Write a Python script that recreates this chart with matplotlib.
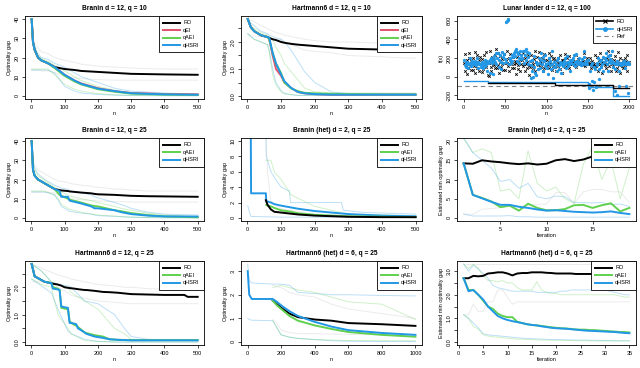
import numpy as np
import matplotlib
matplotlib.use("Agg")
import matplotlib.pyplot as plt
from matplotlib.lines import Line2D

plt.rcParams['font.family'] = ['Liberation Sans', 'DejaVu Sans']

BLACK = 'black'
RED = '#DF536B'
GREEN = '#61D04F'
BLUE = '#2297E6'
GRAY = '#BEBEBE'

# ---------------- Branin d = 12, q = 10
a_n = [1, 5, 10, 20, 30, 50, 70, 100, 130, 150, 200, 250, 300, 400, 500]
a_ro = [40, 28, 24, 20, 18.5, 17, 15, 14, 13.5, 13, 12.5, 12, 11.5, 11.2, 11]
a_qei = [40, 28, 24, 20, 18.5, 17, 15, 11, 8, 6.5, 4, 2.5, 1.5, 1, 0.8]
a_qaei = [40, 28, 24, 20, 18.5, 17, 14.5, 10.5, 7.5, 6, 3.5, 2.2, 1.2, 0.7, 0.5]
a_qhsri = [40, 28, 24, 20, 18.5, 17, 15, 11, 8, 6.3, 3.8, 2.5, 1.4, 0.8, 0.6]
a_ro_hi = [40, 32, 27, 25, 23, 22, 20, 18.5, 17.5, 16.5, 15.5, 15, 14.5, 14, 14]
a_ro_lo = [13.5, 13.5, 13.5, 13.5, 13, 13, 12, 10, 9.5, 9, 8.5, 8.2, 8.2, 8.2, 8.2]
a_hsri_hi = [40, 30, 26, 22, 20, 19, 17, 15, 12, 10, 7, 4, 2.5, 1.5, 1.0]
a_hsri_lo = [13.5, 13.5, 13.5, 13.5, 13.5, 13.5, 12, 5, 2.5, 1.5, 0.8, 0.4, 0.2, 0.1, 0.1]
a_aei_hi = [40, 29, 25, 21, 19.5, 18, 16, 13, 10, 8, 5, 3, 1.8, 1.2, 1.0]
a_aei_lo = [14, 14, 14, 14, 14, 14, 11, 6, 3.5, 2.5, 1.2, 0.6, 0.3, 0.2, 0.1]

# ---------------- Hartmann6 d = 12, q = 10
b_n = [1, 10, 20, 40, 60, 65, 75, 85, 100, 110, 130, 150, 170, 200, 250, 300, 400, 480, 500]
b_ro = [2.85, 2.55, 2.4, 2.25, 2.18, 2.15, 2.1, 2.07, 2.0, 1.97, 1.93, 1.9, 1.88, 1.85, 1.8, 1.75, 1.72, 1.7, 1.65]
b_qei = [2.85, 2.55, 2.4, 2.25, 2.18, 2.1, 1.5, 1.0, 0.75, 0.5, 0.3, 0.15, 0.1, 0.07, 0.05, 0.05, 0.05, 0.05, 0.05]
b_qaei = [2.85, 2.55, 2.4, 2.25, 2.18, 2.1, 1.6, 1.2, 0.85, 0.5, 0.28, 0.18, 0.12, 0.1, 0.08, 0.07, 0.06, 0.06, 0.06]
b_qhsri = [2.85, 2.55, 2.4, 2.25, 2.18, 2.15, 1.6, 1.2, 0.8, 0.55, 0.3, 0.15, 0.1, 0.07, 0.05, 0.05, 0.05, 0.05, 0.05]
b_ro_hi = [2.85, 2.8, 2.75, 2.6, 2.5, 2.45, 2.4, 2.35, 2.3, 2.25, 2.2, 2.15, 2.1, 2.05, 2.0, 2.0, 1.95, 1.9, 1.9]
b_ro_lo = [2.3, 2.25, 2.2, 2.2, 2.15, 2.15, 2.1, 2.1, 2.1, 2.0, 1.9, 1.8, 1.7, 1.65, 1.6, 1.5, 1.45, 1.4, 1.4]
b_hsri_hi = [2.85, 2.7, 2.6, 2.4, 2.3, 2.25, 2.2, 2.15, 2.1, 2.0, 1.7, 1.3, 0.9, 0.5, 0.15, 0.1, 0.1, 0.1, 0.1]
b_hsri_lo = [2.3, 2.2, 2.1, 2.0, 1.9, 1.7, 1.0, 0.5, 0.2, 0.1, 0.05, 0.02, 0.02, 0.02, 0.02, 0.02, 0.02, 0.02, 0.02]
b_aei_hi = [2.85, 2.6, 2.5, 2.35, 2.25, 2.2, 2.1, 1.8, 1.5, 1.2, 0.9, 0.6, 0.3, 0.15, 0.12, 0.1, 0.1, 0.1, 0.1]
b_aei_lo = [2.3, 2.2, 2.1, 2.0, 1.9, 1.6, 0.8, 0.4, 0.15, 0.08, 0.05, 0.03, 0.03, 0.03, 0.03, 0.03, 0.03, 0.03, 0.03]

# ---------------- Lunar lander d = 12, q = 100 (12 evaluations shown per batch of 100)
ro_slots = [3, 11, 19, 27, 35, 43, 51, 59, 67, 75, 83, 91]
hsri_slots = [7, 15, 23, 31, 39, 47, 55, 63, 71, 79, 87, 95]
lunar_ro = [
    [150, 60, 240, 120, 30, 180, 90, 250, 200, 110, 170, 70],
    [140, 70, 200, 110, 260, 40, 160, 95, 230, 130, 180, 60],
    [210, 130, 50, 190, 80, 230, 120, 170, 100, 260, 150, 20],
    [10, 150, 270, 100, 60, 210, 140, 180, 120, 230, 90, 300],
    [90, 250, 120, 40, 160, 220, 100, 130, 190, 70, 240, 150],
    [70, 190, 280, 150, 110, 60, 200, 240, 130, 170, 90, 210],
    [130, 90, 170, 30, 150, 210, 120, 80, 250, 180, 60, 140],
    [180, 110, 250, 140, 60, 200, 130, 160, 90, 230, 120, 20],
    [100, 230, 120, 170, 140, 90, 190, 280, 60, 160, 210, 130],
    [120, 260, 130, 170, 100, 150, 200, 60, 240, 90, 180, 140],
    [140, 180, 120, 250, 90, 160, 130, 220, 70, 190, 110, 200],
    [100, 170, 60, 140, 200, 110, 150, 80, 230, 130, 180, 40],
    [180, 130, 240, 100, 160, 120, 200, 150, 90, 220, 140, 170],
    [150, 130, 160, 140, 120, 170, 100, 230, 140, 150, 190, 130],
    [140, 160, 130, 150, 170, 120, 250, 110, 150, 140, 160, 200],
    [150, 140, 200, 130, 160, 90, 170, 120, 150, 140, 230, 110],
    [110, 210, 140, 60, 180, 130, 250, 100, 160, 40, 200, 150],
    [160, 120, 90, 200, 140, 280, 110, 170, 230, 60, 190, 130],
    [100, 180, 130, 220, 60, 150, 90, 260, 170, 120, 200, 40],
    [150, 110, 180, 90, 140, 200, 120, 170, 60, 230, 130, 160],
]
lunar_hsri = [
    [180, 120, 150, 100, 160, 90, 140, 130, 200, 150, 110, 170],
    [150, 160, 140, 130, 170, 120, 150, 200, 90, 160, 140, 130],
    [130, 100, 160, 120, 90, 150, 180, 110, 140, 60, 170, 150],
    [160, 40, 180, 200, 150, 170, 30, 220, 190, 160, 250, 140],
    [200, 250, 180, 100, 230, 80, 160, 260, 210, 150, 240, 190],
    [160, 590, 600, 615, 605, 140, 200, 180, 150, 230, 170, 210],
    [250, 280, 220, 300, 260, 170, 240, 200, 150, 270, 230, 190],
    [200, 270, 150, 280, 230, 300, 180, 260, 210, 140, 250, 170],
    [120, -20, 60, 180, 0, 220, 100, 40, 160, 20, 130, 80],
    [150, 200, 90, 180, 250, 130, 60, 210, 170, 110, 230, 140],
    [90, 150, 30, 200, 120, 170, 80, 280, 140, -20, 160, 100],
    [100, 140, 60, 180, 200, 120, 80, 160, 130, 40, 150, 110],
    [170, 130, 200, 90, 150, 220, 110, 160, 140, 180, 60, 150],
    [180, 200, 130, 230, 160, 110, 240, 150, 170, 140, 200, 160],
    [160, 120, 190, 130, 150, 210, 280, 140, 170, 150, 130, 180],
    [-80, -120, 60, -100, 120, -50, 150, -140, 100, -60, 80, -110],
    [150, 120, 200, 80, -30, 170, 100, 180, 140, 60, 210, 160],
    [200, 250, 180, 140, 220, 60, 160, 230, 190, 150, 270, 170],
    [100, 150, -150, 80, 130, -200, 170, 140, -100, 60, 150, 120],
    [150, 140, 160, 130, 170, 90, 150, -100, 140, -180, 160, 130],
]
lunar_ro_best_n = [300, 1100, 1800, 2000]
lunar_ro_best = [-70, -90, -125, -125]
lunar_hsri_best_n = [0, 300, 1500, 1800, 2000]
lunar_hsri_best = [-45, -60, -115, -205, -205]
lunar_ref = -100

# ---------------- Branin d = 12, q = 25
d_n = [1, 5, 10, 20, 40, 70, 85, 90, 110, 115, 150, 180, 190, 200, 250, 270, 300, 350, 400, 500]
d_ro = [40, 25, 22, 20, 18, 15, 14.5, 14.3, 14, 13.8, 13.2, 12.8, 12.5, 12.3, 12, 11.8, 11.5, 11.3, 11.2, 11]
d_qaei = [40, 25, 22, 20, 18, 15, 12, 11.5, 10, 9.5, 8, 6.5, 6.2, 6, 4, 3.5, 2.5, 1.5, 0.8, 0.3]
d_qhsri = [40, 25, 22, 20, 18, 15, 14, 11, 11, 9, 7.5, 6, 5, 5, 4, 3, 2, 1.2, 0.8, 0.7]
d_ro_hi = [40, 30, 27, 25, 23, 20, 19, 19, 18.5, 18, 17, 16.5, 16, 16, 15, 15, 14.5, 14, 14, 14]
d_ro_lo = [13.5, 13.5, 13.5, 13.5, 13.5, 13, 12, 11, 10.5, 10, 9.5, 9, 9, 8.8, 8.5, 8.5, 8.3, 8.2, 8.2, 8.2]
d_hsri_hi = [40, 30, 26, 23, 20, 17, 16, 15.5, 15, 14, 13, 12, 11, 10.5, 8, 7, 5, 3, 2, 1.5]
d_hsri_lo = [13.5, 13.5, 13.5, 13.5, 13.5, 12, 8, 6, 4, 3.5, 2.5, 2, 1.5, 1.2, 0.8, 0.6, 0.4, 0.2, 0.1, 0.1]
d_aei_hi = [40, 28, 25, 22, 19.5, 16, 14, 13.5, 12, 11.5, 10, 9, 8.5, 8, 6, 5, 4, 2.5, 1.5, 0.8]
d_aei_lo = [14, 14, 14, 14, 14, 12, 9, 7, 5, 4.5, 3, 2, 1.8, 1.5, 1, 0.7, 0.4, 0.2, 0.1, 0.1]

# ---------------- Branin (het) d = 2, q = 25
e_n = [1, 10, 11, 55, 56, 70, 80, 100, 125, 150, 200, 250, 300, 400, 500]
e_qhsri = [12, 12, 3.2, 3.2, 2.2, 2.0, 1.8, 1.6, 1.4, 1.2, 0.9, 0.7, 0.5, 0.3, 0.2]
e_ro_n = [55, 60, 70, 80, 100, 130, 150, 200, 300, 400, 500]
e_ro = [2.3, 1.7, 1.1, 0.8, 0.7, 0.55, 0.45, 0.3, 0.15, 0.1, 0.1]
e_qaei_n = [56, 60, 70, 80, 100, 130, 150, 200, 300, 400, 500]
e_qaei = [1.7, 1.6, 1.5, 1.3, 1.0, 0.8, 0.6, 0.4, 0.2, 0.15, 0.1]
e_hsri_hi_n = [1, 55, 56, 70, 80, 100, 125, 128, 280, 285, 350, 500]
e_hsri_hi = [12, 12, 8, 6, 5.3, 4, 3.5, 2, 2, 1, 0.7, 0.5]
e_ro_hi_n = [55, 60, 70, 100, 150, 200, 300, 500]
e_ro_hi = [10.5, 6, 2, 1.2, 0.8, 0.5, 0.3, 0.2]
e_aei_hi_n = [56, 70, 80, 100, 130, 200, 300, 500]
e_aei_hi = [7.5, 7.5, 6, 5, 3, 1.5, 0.5, 0.3]
e_lo_n = [1, 10, 100, 500]
e_hsri_lo = [1.6, 0.2, 0.1, 0.05]

# ---------------- Branin (het) estimated, per iteration
f_it = list(range(1, 20))
f_ro = [14.2, 14.1, 15.0, 14.7, 14.5, 14.2, 14.0, 14.2, 13.9, 14.1, 15.0, 15.3, 14.8, 15.2, 16.0, 16.0, 15.8, 15.7, 15.6]
f_qaei = [14.2, 6.0, 5.2, 4.3, 2.8, 3.2, 1.9, 3.7, 2.6, 2.0, 2.0, 2.3, 3.3, 3.4, 2.6, 3.3, 3.8, 1.7, 2.6]
f_qhsri = [14.2, 6.0, 5.1, 4.2, 3.4, 3.4, 2.9, 2.6, 2.2, 1.9, 2.0, 1.8, 1.6, 1.5, 1.4, 1.5, 1.7, 1.3, 1.0]
f_aei_hi = [20.5, 17, 18, 17, 7, 7.5, 5, 17.5, 9, 7, 8, 5, 3.8, 14, 18.5, 10, 15, 5, 13]
f_hsri_hi = [21, 17, 15, 13, 9.5, 10, 7.7, 9, 5.5, 5, 5.7, 5.5, 4, 4, 3.9, 4, 3.5, 3.6, 3.0]
f_ro_hi = [1.0, 0.9, 2.3, 2.4, 2.7, 3.2, 3.0, 3.2, 3.5, 3.6, 6.6, 6.6, 3.8, 6.8, 7.4, 7.4, 6.8, 6.8, 4.0]
f_hsri_lo = [1.0, 0.5, 0.5, 0.5, 0.5, 0.6, 0.3, 0.3, 0.2, 0.2, 0.2, 0.2, 0.2, 0.2, 0.2, 0.2, 0.2, 0.2, 0.2]

# ---------------- Hartmann6 d = 12, q = 25
g_n = [1, 10, 40, 60, 65, 80, 85, 90, 100, 110, 115, 130, 135, 140, 160, 165, 190, 215, 235, 260, 300, 400, 460, 470, 500]
g_ro = [2.85, 2.4, 2.2, 2.15, 2.13, 2.1, 2.08, 2.06, 2.0, 1.98, 1.97, 1.95, 1.94, 1.93, 1.9, 1.9, 1.87, 1.83, 1.82, 1.8, 1.75, 1.72, 1.72, 1.65, 1.65]
g_qaei = [2.85, 2.4, 2.2, 2.15, 2.0, 1.95, 1.9, 1.25, 1.22, 1.2, 0.75, 0.62, 0.6, 0.55, 0.35, 0.33, 0.25, 0.2, 0.1, 0.08, 0.07, 0.07, 0.07, 0.07, 0.07]
g_qhsri = [2.85, 2.4, 2.2, 2.15, 1.95, 1.92, 1.9, 1.3, 1.27, 1.25, 0.7, 0.67, 0.65, 0.5, 0.35, 0.3, 0.2, 0.15, 0.1, 0.08, 0.06, 0.06, 0.06, 0.06, 0.06]
g_q_n = [1, 30, 60, 80, 110, 120, 160, 200, 250, 280, 300, 350, 500]
g_ro_hi = [2.85, 2.7, 2.55, 2.45, 2.35, 2.3, 2.2, 2.1, 2.05, 2.0, 2.0, 1.95, 1.9]
g_ro_lo = [2.2, 2.2, 2.15, 2.0, 1.8, 1.7, 1.6, 1.5, 1.45, 1.42, 1.4, 1.4, 1.4]
g_hsri_hi = [2.85, 2.6, 2.2, 2.1, 2.05, 2.0, 1.5, 1.4, 1.0, 0.5, 0.2, 0.1, 0.05]
g_hsri_lo = [2.3, 2.05, 1.8, 1.2, 0.4, 0.3, 0.1, 0.02, 0.0, 0.0, 0.0, 0.0, 0.0]
g_aei_hi = [2.85, 2.6, 2.2, 2.1, 2.0, 1.8, 1.5, 1.2, 0.5, 0.3, 0.1, 0.08, 0.05]
g_aei_lo = [2.3, 2.1, 2.0, 1.0, 0.5, 0.3, 0.05, 0.02, 0.0, 0.0, 0.0, 0.0, 0.0]

# ---------------- Hartmann6 (het) d = 6, q = 25
h_n = [1, 10, 25, 150, 175, 200, 250, 300, 400, 500, 600, 800, 1000]
h_qhsri = [3.0, 2.0, 1.82, 1.82, 1.7, 1.55, 1.3, 1.1, 0.85, 0.65, 0.5, 0.38, 0.3]
h_ro_n = [150, 175, 200, 250, 300, 400, 500, 600, 800, 1000]
h_ro = [1.75, 1.6, 1.45, 1.2, 1.05, 0.95, 0.9, 0.8, 0.75, 0.68]
h_qaei = [1.75, 1.55, 1.4, 1.1, 0.9, 0.7, 0.55, 0.42, 0.3, 0.22]
h_hsri_hi = [3.3, 2.6, 2.5, 2.45, 2.45, 2.45, 2.4, 2.1, 2.05, 2.0, 2.0, 1.97, 1.95]
h_hsri_lo = [1.0, 0.95, 0.92, 0.9, 0.6, 0.3, 0.2, 0.15, 0.1, 0.05, 0.03, 0.02, 0.02]
h_ro_hi = [2.4, 2.35, 2.3, 2.1, 2.0, 1.9, 1.6, 1.4, 1.2, 1.0]
h_ro_lo = [0.95, 0.8, 0.5, 0.4, 0.35, 0.35, 0.33, 0.32, 0.3, 0.3]
h_aei_hi = [2.3, 2.35, 2.4, 2.3, 2.2, 2.1, 1.9, 1.7, 1.6, 0.95]
h_aei_lo = [0.9, 0.6, 0.3, 0.2, 0.15, 0.1, 0.08, 0.06, 0.05, 0.05]

# ---------------- Hartmann6 (het) estimated, per iteration
i_it = list(range(1, 36))
i_ro = [2.7, 2.7, 2.8, 2.78, 2.8, 2.9, 2.92, 2.95, 2.95, 2.9, 2.82, 2.9, 2.92, 2.92, 2.95, 2.95, 2.95, 2.93, 2.92,
        2.9, 2.9, 2.9, 2.9, 2.88, 2.88, 2.88, 2.88, 2.88, 2.88, 2.88, 2.88, 2.88, 2.88, 2.87, 2.87]
i_qaei = [2.7, 2.2, 2.2, 2.0, 1.75, 1.5, 1.4, 1.2, 1.1, 1.05, 1.05, 0.85, 0.8, 0.75, 0.72, 0.7, 0.68, 0.65, 0.62,
          0.6, 0.58, 0.57, 0.55, 0.53, 0.52, 0.52, 0.5, 0.5, 0.48, 0.47, 0.45, 0.44, 0.42, 0.42, 0.4]
i_qhsri = [2.7, 2.15, 2.2, 2.0, 1.8, 1.5, 1.3, 1.1, 1.0, 0.93, 0.88, 0.84, 0.8, 0.75, 0.72, 0.7, 0.66, 0.63, 0.6,
           0.58, 0.57, 0.56, 0.54, 0.52, 0.5, 0.48, 0.47, 0.46, 0.45, 0.44, 0.43, 0.42, 0.4, 0.38, 0.37]
i_ro_hi = [3.3] * 35
i_ro_mid = [1.15, 1.15, 1.6, 1.3, 1.3, 1.7, 1.7, 2.2, 2.2, 1.9, 1.6, 1.7, 1.7, 1.7, 1.7, 1.7, 1.7, 1.7, 1.7,
            1.7, 1.7, 1.7, 1.7, 1.7, 1.7, 1.7, 1.7, 1.7, 1.7, 1.7, 1.7, 1.7, 1.7, 1.7, 1.7]
i_hsri_hi = [3.3, 3.0, 3.25, 3.1, 2.9, 2.7, 2.4, 2.3, 2.25, 2.2, 2.15, 2.15, 2.15, 2.15, 2.15, 2.1, 2.1, 2.1, 2.1,
             2.1, 2.15, 2.15, 2.2, 2.2, 2.2, 2.2, 2.2, 2.2, 2.2, 2.2, 2.15, 2.1, 2.05, 2.0, 2.0]
i_aei_hi = [3.3, 3.1, 3.3, 3.1, 2.8, 2.6, 2.6, 2.55, 2.6, 2.5, 2.5, 2.3, 2.2, 2.2, 2.2, 2.55, 2.2, 2.1, 2.05,
            2.05, 2.0, 2.0, 2.0, 2.0, 2.0, 2.0, 2.0, 2.0, 2.0, 2.0, 2.0, 2.0, 1.95, 1.9, 1.9]
i_hsri_lo = [1.15, 1.0, 0.8, 0.6, 0.35, 0.3, 0.28, 0.26, 0.24, 0.22, 0.2, 0.18, 0.16, 0.15, 0.14, 0.13, 0.12, 0.11, 0.1,
             0.1, 0.1, 0.09, 0.09, 0.08, 0.08, 0.08, 0.07, 0.07, 0.06, 0.06, 0.06, 0.05, 0.05, 0.05, 0.05]
i_aei_lo = [1.15, 1.0, 0.65, 0.55, 0.3, 0.25, 0.22, 0.2, 0.18, 0.16, 0.14, 0.12, 0.11, 0.1, 0.1, 0.09, 0.08, 0.08, 0.07,
            0.07, 0.06, 0.06, 0.06, 0.05, 0.05, 0.05, 0.05, 0.04, 0.04, 0.04, 0.04, 0.04, 0.04, 0.04, 0.04]


fig = plt.figure(figsize=(6.4, 3.68), dpi=100)


def px(l, t, r, b):
    return [l / 640, 1 - b / 368, (r - l) / 640, (b - t) / 368]


cols = [(25, 204), (241, 422), (457, 636)]
rows = [(16, 99), (138, 221), (261, 345)]


def setup(ax, title, xlim, ylim, xticks, yticks, ylabels, xlabel="n", ylabel="Optimality gap"):
    ax.set_xlim(*xlim)
    ax.set_ylim(*ylim)
    ax.set_xticks(xticks)
    ax.set_xticklabels([str(t) for t in xticks])
    ax.set_yticks(yticks)
    ax.set_yticklabels(ylabels, rotation=90, va='center')
    ax.tick_params(labelsize=4, length=2, width=0.5, pad=2)
    for s in ax.spines.values():
        s.set_linewidth(0.6)
    ax.set_title(title, fontsize=4.8, fontweight='bold', pad=4)
    ax.set_xlabel(xlabel, fontsize=4, labelpad=1)
    ax.set_ylabel(ylabel, fontsize=4, labelpad=1.5)


def faint(ax, x, y, c):
    ax.plot(x, y, color=c, lw=0.7, alpha=0.3)


def legend(ax, names, colors):
    handles = [Line2D([], [], color=c, lw=1.4) for c in colors]
    leg = ax.legend(handles, names, loc='upper right', borderaxespad=0, fontsize=4,
                    fancybox=False, framealpha=1, edgecolor='black', handlelength=3,
                    handletextpad=0.6, labelspacing=0.45, borderpad=0.8)
    leg.get_frame().set_linewidth(0.6)


# panel: Branin d=12, q=10
ax = fig.add_axes(px(cols[0][0], rows[0][0], cols[0][1], rows[0][1]))
faint(ax, a_n, a_ro_hi, GRAY)
faint(ax, a_n, a_ro_lo, GRAY)
faint(ax, a_n, a_hsri_hi, BLUE)
faint(ax, a_n, a_hsri_lo, BLUE)
faint(ax, a_n, a_aei_hi, GREEN)
faint(ax, a_n, a_aei_lo, GREEN)
ax.plot(a_n, a_ro, color=BLACK, lw=1.4)
ax.plot(a_n, a_qei, color=RED, lw=1.4)
ax.plot(a_n, a_qaei, color=GREEN, lw=1.4)
ax.plot(a_n, a_qhsri, color=BLUE, lw=1.4)
setup(ax, "Branin d = 12, q = 10", (-19, 519), (-1.6, 41.6), [0, 100, 200, 300, 400, 500],
      [0, 10, 20, 30, 40], ['0', '10', '20', '30', '40'])
legend(ax, ['RO', 'qEI', 'qAEI', 'qHSRI'], [BLACK, RED, GREEN, BLUE])

# panel: Hartmann6 d=12, q=10
ax = fig.add_axes(px(cols[1][0], rows[0][0], cols[1][1], rows[0][1]))
faint(ax, b_n, b_ro_hi, GRAY)
faint(ax, b_n, b_ro_lo, GRAY)
faint(ax, b_n, b_hsri_hi, BLUE)
faint(ax, b_n, b_hsri_lo, BLUE)
faint(ax, b_n, b_aei_hi, GREEN)
faint(ax, b_n, b_aei_lo, GREEN)
ax.plot(b_n, b_ro, color=BLACK, lw=1.4)
ax.plot(b_n, b_qei, color=RED, lw=1.4)
ax.plot(b_n, b_qaei, color=GREEN, lw=1.4)
ax.plot(b_n, b_qhsri, color=BLUE, lw=1.4)
setup(ax, "Hartmann6 d = 12, q = 10", (-19, 519), (-0.11, 2.96), [0, 100, 200, 300, 400, 500],
      [0, 0.5, 1.0, 1.5, 2.0, 2.5], ['0.0', '', '1.0', '', '2.0', ''])
legend(ax, ['RO', 'qEI', 'qAEI', 'qHSRI'], [BLACK, RED, GREEN, BLUE])

# panel: Lunar lander
ax = fig.add_axes(px(cols[2][0], rows[0][0], cols[2][1], rows[0][1]))
for b in range(len(lunar_ro)):
    ax.plot([100 * b + s for s in ro_slots], lunar_ro[b], ls='none', marker='x', ms=1.8, mew=0.6, color=BLACK)
for b in range(len(lunar_hsri)):
    ax.plot([100 * b + s for s in hsri_slots], lunar_hsri[b], ls='none', marker='o', ms=2.4, mew=0, color=BLUE)
ax.axhline(lunar_ref, color='gray', lw=0.8, ls=(0, (4, 3)))
ax.plot(lunar_hsri_best_n, lunar_hsri_best, color=BLUE, lw=1.0, drawstyle='steps-post')
ax.plot(lunar_ro_best_n, lunar_ro_best, color=BLACK, lw=1.0, drawstyle='steps-post')
setup(ax, "Lunar lander d = 12, q = 100", (-80, 2080), (-240, 650), [0, 500, 1000, 1500, 2000],
      [-200, 0, 200, 400, 600], ['-200', '0', '200', '400', '600'], ylabel="f(x)")
handles = [Line2D([], [], color=BLACK, lw=1.2, marker='x', ms=2.5, mew=0.8),
           Line2D([], [], color=BLUE, lw=1.2, marker='o', ms=2.5),
           Line2D([], [], color='gray', lw=0.8, ls=(0, (4, 3)))]
leg = ax.legend(handles, ['RO', 'qHSRI', 'Ref'], loc='upper right', borderaxespad=0, fontsize=4,
                fancybox=False, framealpha=1, edgecolor='black', handlelength=3,
                handletextpad=0.6, labelspacing=0.45, borderpad=0.6)
leg.get_frame().set_linewidth(0.6)

# panel: Branin d=12, q=25
ax = fig.add_axes(px(cols[0][0], rows[1][0], cols[0][1], rows[1][1]))
faint(ax, d_n, d_ro_hi, GRAY)
faint(ax, d_n, d_ro_lo, GRAY)
faint(ax, d_n, d_hsri_hi, BLUE)
faint(ax, d_n, d_hsri_lo, BLUE)
faint(ax, d_n, d_aei_hi, GREEN)
faint(ax, d_n, d_aei_lo, GREEN)
ax.plot(d_n, d_ro, color=BLACK, lw=1.4)
ax.plot(d_n, d_qaei, color=GREEN, lw=1.4)
ax.plot(d_n, d_qhsri, color=BLUE, lw=1.4)
setup(ax, "Branin d = 12, q = 25", (-19, 519), (-1.6, 41.6), [0, 100, 200, 300, 400, 500],
      [0, 10, 20, 30, 40], ['0', '10', '20', '30', '40'])
legend(ax, ['RO', 'qAEI', 'qHSRI'], [BLACK, GREEN, BLUE])

# panel: Branin (het) d=2, q=25
ax = fig.add_axes(px(cols[1][0], rows[1][0], cols[1][1], rows[1][1]))
faint(ax, e_hsri_hi_n, e_hsri_hi, BLUE)
faint(ax, e_ro_hi_n, e_ro_hi, GRAY)
faint(ax, e_aei_hi_n, e_aei_hi, GREEN)
faint(ax, e_lo_n, e_hsri_lo, BLUE)
ax.plot(e_n, e_qhsri, color=BLUE, lw=1.4)
ax.plot(e_qaei_n, e_qaei, color=GREEN, lw=1.4)
ax.plot(e_ro_n, e_ro, color=BLACK, lw=1.4)
setup(ax, "Branin (het) d = 2, q = 25", (-19, 519), (-0.4, 10.4), [0, 100, 200, 300, 400, 500],
      [0, 2, 4, 6, 8, 10], ['0', '2', '4', '6', '8', '10'])
legend(ax, ['RO', 'qAEI', 'qHSRI'], [BLACK, GREEN, BLUE])

# panel: Branin (het) estimated
ax = fig.add_axes(px(cols[2][0], rows[1][0], cols[2][1], rows[1][1]))
faint(ax, f_it, f_aei_hi, GREEN)
faint(ax, f_it, f_hsri_hi, BLUE)
faint(ax, f_it, f_ro_hi, GRAY)
faint(ax, f_it, f_hsri_lo, BLUE)
ax.plot(f_it, f_ro, color=BLACK, lw=1.4)
ax.plot(f_it, f_qaei, color=GREEN, lw=1.4)
ax.plot(f_it, f_qhsri, color=BLUE, lw=1.4)
setup(ax, "Branin (het) d = 2, q = 25", (0.28, 19.72), (-0.8, 20.8), [5, 10, 15],
      [0, 5, 10, 15, 20], ['0', '5', '10', '15', '20'], xlabel="Iteration",
      ylabel="Estimated min optimality gap")
legend(ax, ['RO', 'qAEI', 'qHSRI'], [BLACK, GREEN, BLUE])

# panel: Hartmann6 d=12, q=25
ax = fig.add_axes(px(cols[0][0], rows[2][0], cols[0][1], rows[2][1]))
faint(ax, g_q_n, g_ro_hi, GRAY)
faint(ax, g_q_n, g_ro_lo, GRAY)
faint(ax, g_q_n, g_hsri_hi, BLUE)
faint(ax, g_q_n, g_hsri_lo, BLUE)
faint(ax, g_q_n, g_aei_hi, GREEN)
faint(ax, g_q_n, g_aei_lo, GREEN)
ax.plot(g_n, g_ro, color=BLACK, lw=1.4)
ax.plot(g_n, g_qaei, color=GREEN, lw=1.4)
ax.plot(g_n, g_qhsri, color=BLUE, lw=1.4)
setup(ax, "Hartmann6 d = 12, q = 25", (-19, 519), (-0.11, 2.96), [0, 100, 200, 300, 400, 500],
      [0, 0.5, 1.0, 1.5, 2.0, 2.5], ['0.0', '', '1.0', '', '2.0', ''])
legend(ax, ['RO', 'qAEI', 'qHSRI'], [BLACK, GREEN, BLUE])

# panel: Hartmann6 (het) d=6, q=25
ax = fig.add_axes(px(cols[1][0], rows[2][0], cols[1][1], rows[2][1]))
faint(ax, h_n, h_hsri_hi, BLUE)
faint(ax, h_n, h_hsri_lo, BLUE)
faint(ax, h_ro_n, h_ro_hi, GRAY)
faint(ax, h_ro_n, h_ro_lo, GRAY)
faint(ax, h_ro_n, h_aei_hi, GREEN)
faint(ax, h_ro_n, h_aei_lo, GREEN)
ax.plot(h_ro_n, h_ro, color=BLACK, lw=1.4)
ax.plot(h_ro_n, h_qaei, color=GREEN, lw=1.4)
ax.plot(h_n, h_qhsri, color=BLUE, lw=1.4)
setup(ax, "Hartmann6 (het) d = 6, q = 25", (-39, 1039), (-0.13, 3.43), [0, 200, 400, 600, 800, 1000],
      [0, 1, 2, 3], ['0', '1', '2', '3'])
legend(ax, ['RO', 'qAEI', 'qHSRI'], [BLACK, GREEN, BLUE])

# panel: Hartmann6 (het) estimated
ax = fig.add_axes(px(cols[2][0], rows[2][0], cols[2][1], rows[2][1]))
faint(ax, i_it, i_ro_hi, GRAY)
faint(ax, i_it, i_ro_mid, GRAY)
faint(ax, i_it, i_hsri_hi, BLUE)
faint(ax, i_it, i_aei_hi, GREEN)
faint(ax, i_it, i_hsri_lo, BLUE)
faint(ax, i_it, i_aei_lo, GREEN)
ax.plot(i_it, i_ro, color=BLACK, lw=1.4)
ax.plot(i_it, i_qaei, color=GREEN, lw=1.4)
ax.plot(i_it, i_qhsri, color=BLUE, lw=1.4)
setup(ax, "Hartmann6 (het) d = 6, q = 25", (-0.36, 36.36), (-0.13, 3.43), [0, 5, 10, 15, 20, 25, 30, 35],
      [0, 0.5, 1.0, 1.5, 2.0, 2.5, 3.0], ['0.0', '', '1.0', '', '2.0', '', '3.0'], xlabel="Iteration",
      ylabel="Estimated min optimality gap")
legend(ax, ['RO', 'qAEI', 'qHSRI'], [BLACK, GREEN, BLUE])

fig.savefig("out.png", dpi=100)
